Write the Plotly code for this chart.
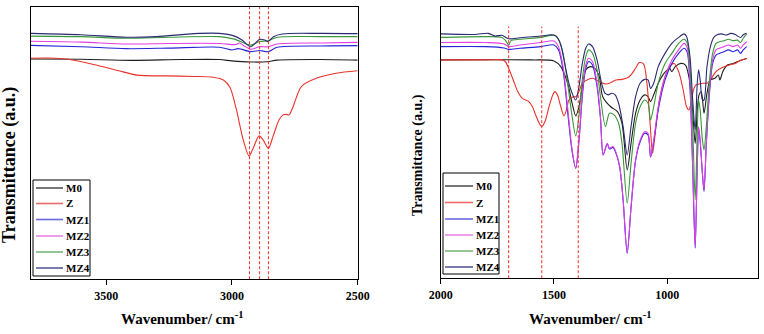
import plotly.graph_objects as go

# ---------------- Left panel (3800-2500 cm-1) ----------------
L_M0_wn = [3800, 3600, 3400, 3200, 3050, 3000, 2926, 2860, 2820, 2650, 2500]
L_M0_T = [80.8, 80.7, 80.3, 80.6, 80.6, 80.1, 79.7, 79.8, 80.4, 80.6, 80.4]

L_Z_wn = [3800, 3700, 3650, 3550, 3450, 3377, 3259, 3150, 3074, 3034, 3008, 2982, 2955, 2932,
          2916, 2892, 2876, 2855, 2837, 2813, 2797, 2785, 2773, 2757, 2724, 2665, 2586, 2500]
L_Z_T = [81.1, 81.1, 80.7, 78.8, 76.5, 74.9, 74.6, 74.4, 74.1, 73.1, 70.4, 62.1, 51.1, 45.2,
         48.0, 52.6, 51.1, 48.0, 52.3, 58.4, 60.3, 60.5, 60.3, 63.3, 70.7, 73.7, 75.6, 76.5]

L_MZ1_wn = [3800, 3600, 3420, 3250, 3050, 3000, 2975, 2926, 2890, 2856, 2820, 2650, 2500]
L_MZ1_T = [85.8, 85.3, 84.6, 84.8, 85.1, 84.1, 84.6, 83.5, 83.9, 83.5, 85.1, 85.6, 85.7]

L_MZ2_wn = [3800, 3600, 3420, 3250, 3050, 2985, 2970, 2950, 2926, 2890, 2856, 2820, 2650, 2500]
L_MZ2_T = [87.3, 87.0, 86.3, 86.5, 86.5, 86.1, 86.7, 85.5, 84.4, 85.3, 85.3, 86.3, 86.7, 86.9]

L_MZ3_wn = [3800, 3600, 3420, 3250, 3050, 2990, 2926, 2890, 2856, 2820, 2650, 2500]
L_MZ3_T = [89.2, 89.0, 88.4, 88.8, 89.0, 88.1, 85.9, 87.2, 87.5, 88.8, 89.0, 89.0]

L_MZ4_wn = [3800, 3600, 3420, 3300, 3150, 3050, 2990, 2960, 2926, 2905, 2890, 2870, 2856,
            2835, 2800, 2650, 2500]
L_MZ4_T = [90.2, 89.7, 88.8, 89.0, 90.1, 90.2, 89.2, 87.8, 85.3, 86.8, 88.0, 87.8, 87.2,
           89.0, 90.0, 90.2, 90.1]

L_marks = [2930, 2890, 2855]
L_ticks = [3500, 3000, 2500]

# ---------------- Right panel (2000-650 cm-1) ----------------
R_M0_wn = [2000, 1600, 1500, 1470, 1440, 1420, 1404, 1390, 1375, 1360, 1340, 1320, 1300, 1285,
           1250, 1220, 1200, 1177, 1160, 1140, 1120, 1100, 1085, 1074, 1060, 1040, 1020, 1000,
           990, 980, 965, 940, 920, 905, 890, 877, 868, 860, 850, 838, 825, 810, 790, 775, 768,
           755, 735, 710, 680, 650]
R_M0_T = [80.6, 80.6, 80.2, 78.1, 72.0, 64.6, 59.9, 63.3, 70.7, 76.9, 78.1, 77.5, 74.4, 67.0,
          63.3, 61.5, 57.2, 40.0, 49.8, 60.9, 65.8, 67.7, 67.0, 65.2, 67.7, 72.0, 75.0, 76.9,
          77.5, 76.3, 78.1, 79.3, 78.7, 74.4, 63.3, 49.8, 61.5, 67.7, 68.9, 60.9, 68.3, 73.2,
          73.8, 75.0, 73.2, 76.3, 78.7, 79.3, 80.3, 81.1]

R_Z_wn = [2000, 1800, 1730, 1715, 1700, 1680, 1660, 1640, 1611, 1595, 1581, 1565, 1555, 1540,
          1522, 1505, 1496, 1485, 1470, 1456, 1445, 1434, 1415, 1404, 1390, 1375, 1350, 1330,
          1300, 1271, 1250, 1227, 1200, 1168, 1140, 1124, 1105, 1090, 1075, 1065, 1050, 1035,
          1010, 990, 970, 950, 930, 915, 905, 895, 885, 875, 860, 840, 825, 810, 785, 750, 726,
          700, 680, 650]
R_Z_T = [80.6, 80.6, 80.6, 80.0, 77.5, 73.2, 68.9, 66.4, 65.2, 63.3, 60.3, 57.2, 56.0, 57.8,
         63.3, 67.7, 68.9, 67.7, 63.3, 59.9, 62.1, 65.8, 67.0, 67.0, 68.9, 72.0, 73.4, 73.8,
         72.6, 71.7, 72.2, 73.2, 73.4, 74.4, 77.5, 79.6, 79.1, 72.0, 56.0, 46.1, 56.0, 65.8,
         74.4, 78.1, 79.3, 76.3, 69.5, 63.3, 62.1, 64.6, 69.5, 71.3, 71.7, 72.0, 72.0, 73.2,
         76.3, 78.1, 78.7, 79.3, 80.3, 81.1]

R_MZ_wn = [2000, 1800, 1720, 1700, 1650, 1560, 1500, 1480, 1460, 1440, 1420, 1404, 1390, 1375,
           1360, 1347, 1330, 1310, 1295, 1283, 1265, 1255, 1240, 1225, 1210, 1195, 1177, 1160,
           1140, 1120, 1100, 1085, 1074, 1060, 1040, 1010, 980, 950, 926, 912, 900, 888, 877,
           868, 862, 855, 845, 838, 828, 815, 800, 785, 770, 750, 730, 710, 690, 677, 665, 650]
R_MZ1_T = [85.5, 85.5, 85.0, 84.5, 84.9, 85.5, 86.1, 84.3, 76.9, 61.5, 46.7, 40.6, 50.4, 67.0,
           77.5, 80.0, 78.7, 70.7, 59.0, 45.5, 49.6, 47.7, 48.3, 45.8, 41.0, 28.9, 9.2, 26.1,
           43.4, 50.4, 53.5, 52.9, 44.7, 50.4, 62.1, 73.2, 79.3, 83.0, 84.9, 83.3, 70.7, 40.6,
           11.1, 40.6, 55.4, 50.4, 38.5, 32.0, 49.3, 67.0, 79.3, 82.4, 83.0, 83.6, 84.3, 83.6,
           84.3, 83.0, 84.3, 85.5]
R_MZ2_T = [87.0, 87.0, 86.5, 85.5, 86.1, 87.0, 87.6, 85.5, 78.1, 63.3, 47.4, 40.6, 51.0, 68.3,
           78.7, 81.2, 80.0, 72.0, 59.7, 45.5, 49.8, 48.0, 48.6, 46.1, 41.2, 28.9, 9.2, 26.3,
           43.7, 51.0, 54.1, 53.5, 44.9, 51.0, 63.3, 74.4, 80.6, 84.3, 86.7, 84.9, 72.0, 41.2,
           11.7, 41.2, 56.0, 51.0, 38.7, 32.6, 49.8, 68.3, 80.6, 84.3, 84.9, 85.5, 86.1, 85.5,
           86.1, 84.9, 86.1, 87.3]

R_MZ3_wn = [2000, 1800, 1730, 1715, 1700, 1690, 1650, 1560, 1500, 1480, 1460, 1440, 1420, 1404,
            1390, 1375, 1360, 1347, 1330, 1310, 1295, 1273, 1255, 1235, 1215, 1200, 1177, 1160,
            1140, 1120, 1100, 1085, 1074, 1060, 1040, 1010, 980, 950, 926, 912, 900, 888, 877,
            868, 862, 855, 845, 838, 828, 815, 800, 785, 770, 750, 730, 710, 690, 677, 665, 650]
R_MZ3_T = [88.9, 89.2, 88.9, 87.9, 86.1, 87.7, 88.2, 88.9, 89.7, 88.2, 83.0, 72.0, 59.7, 52.5,
           59.7, 73.4, 81.8, 84.3, 83.0, 76.9, 67.0, 56.0, 60.9, 60.3, 57.2, 49.8, 27.7, 42.4,
           57.2, 63.3, 65.8, 64.6, 58.4, 63.3, 72.0, 79.3, 83.0, 86.7, 88.2, 86.7, 78.1, 56.0,
           28.9, 53.5, 65.8, 62.1, 51.0, 47.4, 56.0, 72.0, 83.0, 86.7, 87.3, 87.7, 88.2, 87.7,
           87.9, 87.0, 88.6, 90.2]

R_MZ4_wn = [2000, 1850, 1790, 1760, 1730, 1700, 1650, 1560, 1510, 1490, 1470, 1450, 1430, 1404,
            1390, 1375, 1360, 1347, 1330, 1310, 1290, 1275, 1260, 1245, 1230, 1215, 1195, 1177,
            1160, 1140, 1120, 1100, 1085, 1074, 1060, 1040, 1010, 980, 950, 926, 915, 900, 888,
            877, 868, 862, 855, 845, 838, 825, 810, 795, 780, 760, 740, 720, 700, 690, 677, 665,
            650]
R_MZ4_T = [90.2, 90.0, 90.4, 89.4, 89.7, 88.4, 88.8, 89.4, 89.9, 89.4, 86.1, 78.1, 70.7, 65.8,
           70.7, 79.3, 84.9, 86.5, 85.5, 80.6, 72.0, 68.3, 67.7, 68.3, 67.7, 64.6, 56.0, 45.5,
           56.0, 67.0, 72.0, 73.4, 73.2, 70.1, 72.0, 78.1, 83.0, 86.7, 88.9, 90.2, 89.2, 81.8,
           65.8, 54.7, 72.0, 76.9, 73.2, 65.8, 65.8, 78.1, 85.5, 88.9, 89.9, 90.2, 89.8, 90.4,
           90.0, 89.4, 88.9, 89.9, 90.4]

R_marks = [1700, 1554, 1393]
R_mark_top = 92.9
R_ticks = [2000, 1500, 1000]

names = ["M0", "Z", "MZ1", "MZ2", "MZ3", "MZ4"]
colors = ["#1e1e1e", "#e8322c", "#2626d8", "#e43ee4", "#3a983a", "#2a2a72"]
legend_colors = ["#555555", "#ec6a6a", "#6a6ae0", "#e886e8", "#78b878", "#5a5a9a"]
MARK_COLOR = "#ff2a2a"

left_series = [(L_M0_wn, L_M0_T), (L_Z_wn, L_Z_T), (L_MZ1_wn, L_MZ1_T),
               (L_MZ2_wn, L_MZ2_T), (L_MZ3_wn, L_MZ3_T), (L_MZ4_wn, L_MZ4_T)]
right_series = [(R_M0_wn, R_M0_T), (R_Z_wn, R_Z_T), (R_MZ_wn, R_MZ1_T),
                (R_MZ_wn, R_MZ2_T), (R_MZ3_wn, R_MZ3_T), (R_MZ4_wn, R_MZ4_T)]

FONT = "Liberation Serif"
W, H = 764, 334

fig = go.Figure()
for (wn, t), n, c in zip(left_series, names, colors):
    fig.add_trace(go.Scatter(x=wn, y=t, name=n, mode="lines", xaxis="x", yaxis="y",
                             line=dict(color=c, width=1.1, shape="spline", smoothing=0.8),
                             showlegend=False))
for (wn, t), n, c in zip(right_series, names, colors):
    fig.add_trace(go.Scatter(x=wn, y=t, name=n, mode="lines", xaxis="x2", yaxis="y2",
                             line=dict(color=c, width=1.1, shape="spline", smoothing=0.8),
                             showlegend=False))

shapes = []
for m in L_marks:
    shapes.append(dict(type="line", xref="x", yref="y", x0=m, x1=m, y0=0, y1=100,
                       line=dict(color=MARK_COLOR, width=1, dash="3px,2px")))
for m in R_marks:
    shapes.append(dict(type="line", xref="x2", yref="y2", x0=m, x1=m, y0=0, y1=R_mark_top,
                       line=dict(color=MARK_COLOR, width=1, dash="3px,2px")))

annotations = []


def px(x):
    return x / W


def py(y):
    return 1 - y / H


# hand-built legend boxes (compact, like the original)
def add_legend(box, line_x, text_x, rows_y):
    x0, y0, x1, y1 = box
    shapes.append(dict(type="rect", xref="paper", yref="paper", x0=px(x0), x1=px(x1),
                       y0=py(y1), y1=py(y0), line=dict(color="black", width=1),
                       fillcolor="white", layer="above"))
    for n, c, yy in zip(names, legend_colors, rows_y):
        shapes.append(dict(type="line", xref="paper", yref="paper", x0=px(line_x[0]),
                           x1=px(line_x[1]), y0=py(yy), y1=py(yy),
                           line=dict(color=c, width=1.6), layer="above"))
        annotations.append(dict(text=n, xref="paper", yref="paper", x=px(text_x), y=py(yy),
                                xanchor="left", yanchor="middle", showarrow=False,
                                font=dict(family=FONT, size=11, color="black", weight="bold")))


add_legend((33, 180, 90, 276), (36, 63), 64, [188, 203.5, 219.5, 236, 252, 268])
add_legend((443, 173, 499, 274), (445, 473), 474, [186, 202.5, 219, 235, 251, 267])

annotations += [
    dict(text="Transmittance (a.u.)", xref="paper", yref="paper", x=px(9), y=py(165),
         textangle=-90, showarrow=False, xanchor="center", yanchor="middle",
         font=dict(family=FONT, size=18, color="black", weight="bold")),
    dict(text="Transmittance (a.u.)", xref="paper", yref="paper", x=px(418), y=py(155),
         textangle=-90, showarrow=False, xanchor="center", yanchor="middle",
         font=dict(family=FONT, size=14, color="black", weight="bold")),
    dict(text="Wavenumber/ cm<sup>-1</sup>", xref="paper", yref="paper", x=px(182),
         y=py(318), showarrow=False, xanchor="center", yanchor="middle",
         font=dict(family=FONT, size=15, color="black", weight="bold")),
    dict(text="Wavenumber/ cm<sup>-1</sup>", xref="paper", yref="paper", x=px(590),
         y=py(318), showarrow=False, xanchor="center", yanchor="middle",
         font=dict(family=FONT, size=15, color="black", weight="bold")),
]

axis_common = dict(showline=True, linecolor="black", linewidth=1, mirror=True,
                   showgrid=False, zeroline=False, automargin=False)
tickfont = dict(family=FONT, size=12, color="black", weight="bold")

fig.update_layout(
    width=W, height=H,
    margin=dict(l=0, r=0, t=0, b=0, pad=0, autoexpand=False),
    paper_bgcolor="white", plot_bgcolor="white",
    showlegend=False,
    shapes=shapes,
    annotations=annotations,
    xaxis=dict(domain=[0.0402, 0.4682], range=[3800, 2500], tickvals=L_ticks,
               ticks="outside", ticklen=5, tickcolor="black", tickfont=tickfont,
               anchor="y", **axis_common),
    yaxis=dict(domain=[0.164, 0.980], range=[0, 100], showticklabels=False,
               ticks="", anchor="x", **axis_common),
    xaxis2=dict(domain=[0.5768, 0.9921], range=[2000, 600], tickvals=R_ticks,
                ticks="outside", ticklen=5, tickcolor="black", tickfont=tickfont,
                anchor="y2", **axis_common),
    yaxis2=dict(domain=[0.167, 0.978], range=[0, 100], showticklabels=False,
                ticks="", anchor="x2", **axis_common),
)

fig.write_html("out.html", config={"displayModeBar": False},
               post_script="document.body.style.margin='0';")
